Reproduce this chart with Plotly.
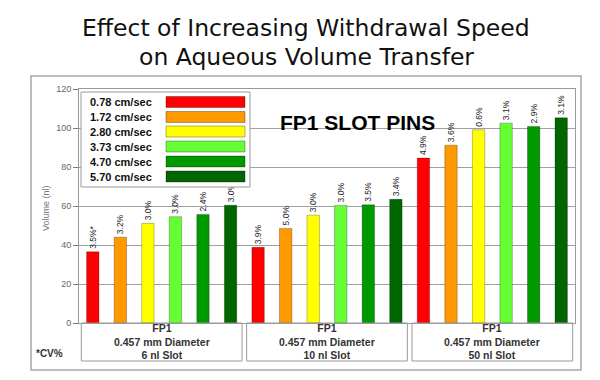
import plotly.graph_objects as go

# ---- data ----
groups = ["FP1<br>0.457 mm Diameter<br>6 nl Slot",
          "FP1<br>0.457 mm Diameter<br>10 nl Slot",
          "FP1<br>0.457 mm Diameter<br>50 nl Slot"]
speeds = ["0.78 cm/sec", "1.72 cm/sec", "2.80 cm/sec", "3.73 cm/sec", "4.70 cm/sec", "5.70 cm/sec"]
colors = ["#FF0000", "#FF9900", "#FFFF00", "#66FF33", "#009900", "#006600"]

# volume (nl) per speed, for the 3 slot groups
v_078 = [36.5, 38.8, 84.6]
v_172 = [44.0, 48.5, 91.2]
v_280 = [51.1, 55.3, 99.1]
v_373 = [54.5, 60.3, 102.5]
v_470 = [55.7, 60.6, 100.8]
v_570 = [60.4, 63.4, 105.2]
values = [v_078, v_172, v_280, v_373, v_470, v_570]

# CV% labels
cv_078 = ["3.5%*", "3.9%", "4.9%"]
cv_172 = ["3.2%", "5.0%", "3.6%"]
cv_280 = ["3.0%", "3.0%", "0.6%"]
cv_373 = ["3.0%", "3.0%", "3.1%"]
cv_470 = ["2.4%", "3.5%", "2.9%"]
cv_570 = ["3.0%", "3.4%", "3.1%"]
cvs = [cv_078, cv_172, cv_280, cv_373, cv_470, cv_570]

y_ticks = [0, 20, 40, 60, 80, 100, 120]

title_lines = ["Effect of Increasing Withdrawal Speed", "on Aqueous Volume Transfer"]

FONT = "Liberation Sans, Arial, sans-serif"

# ---- layout geometry (pixels) ----
W, H = 600, 380
L, R, T, B = 71, 567, 81, 315
def px(x):
    return (x - L) / (R - L)
def py(y):
    return (B - y) / (B - T)

fig = go.Figure()
for name, col, vals, labs in zip(speeds, colors, values, cvs):
    fig.add_trace(go.Bar(
        x=groups, y=vals, name=name,
        marker=dict(color=col, line=dict(color="rgba(0,0,0,0.25)", width=1)),
        text=labs, textposition="outside", textangle=-90, constraintext="none",
        textfont=dict(family=FONT, size=8.5, color="#222"), cliponaxis=False,
        showlegend=False,
    ))

shapes = []
annotations = []

# outer frame
shapes.append(dict(type="rect", xref="paper", yref="paper", x0=px(23), x1=px(573), y0=py(362), y1=py(68),
                   line=dict(color="#a8a8a8", width=1.5), layer="below"))
# category boxes
for i in range(len(groups)):
    shapes.append(dict(type="rect", xref="x", yref="paper", x0=i - 0.5 + 0.014, x1=i + 0.5 - 0.014,
                       y0=py(353), y1=0, line=dict(color="#9a9a9a", width=1), layer="above"))
    annotations.append(dict(x=groups[i], xref="x", y=py(333), yref="paper", text="<b>" + groups[i] + "</b>",
                            showarrow=False, font=dict(family=FONT, size=10.5, color="#333"),
                            xanchor="center", yanchor="middle"))

# custom legend (text left, swatch right)
shapes.append(dict(type="rect", xref="paper", yref="paper", x0=px(73), x1=px(242), y0=py(179), y1=py(84),
                   fillcolor="white", line=dict(color="#9a9a9a", width=1), layer="above"))
row_y = [94, 109, 123.5, 138.5, 153.5, 168.5]
for name, col, yy in zip(speeds, colors, row_y):
    shapes.append(dict(type="rect", xref="paper", yref="paper", x0=px(158), x1=px(237),
                       y0=py(yy + 5.5), y1=py(yy - 5.5),
                       fillcolor=col, line=dict(color="rgba(0,0,0,0.3)", width=1), layer="above"))
    annotations.append(dict(x=px(80), y=py(yy), xref="paper", yref="paper", text="<b>" + name + "</b>",
                            showarrow=False, xanchor="left", yanchor="middle",
                            font=dict(family=FONT, size=11, color="#111")))

annotations.append(dict(x=px(349), y=py(101), xref="paper", yref="paper", text="<b>FP1 SLOT PINS</b>",
                        showarrow=False, font=dict(family=FONT, size=21, color="#000")))
annotations.append(dict(x=px(31), y=py(200), xref="paper", yref="paper", text="Volume (nl)", textangle=-90,
                        showarrow=False, font=dict(family=FONT, size=9, color="#777")))
annotations.append(dict(x=px(26), y=py(353), xref="paper", yref="paper", text="<b>*CV%</b>", xanchor="left",
                        showarrow=False, font=dict(family=FONT, size=10, color="#333")))
for txt, yy in zip(title_lines, [20, 49]):
    annotations.append(dict(x=px(298), y=py(yy), xref="paper", yref="paper", text=txt,
                            showarrow=False, xanchor="center", yanchor="middle",
                            font=dict(family="DejaVu Sans, sans-serif", size=23.5, color="#111")))

fig.update_layout(
    width=W, height=H, margin=dict(l=L, r=W - R, t=T, b=H - B),
    paper_bgcolor="white", plot_bgcolor="white",
    barmode="group", bargap=0.0, bargroupgap=0.55,
    shapes=shapes, annotations=annotations, showlegend=False,
    font=dict(family=FONT),
)
fig.update_xaxes(showticklabels=False, showline=True, linecolor="#9a9a9a", mirror=True, ticks="",
                 range=[-0.5, 2.5], showgrid=False)
fig.update_yaxes(range=[0, 120], tickvals=y_ticks, showgrid=True, gridcolor="#a0a0a0", gridwidth=1,
                 showline=True, linecolor="#9a9a9a", mirror=True, ticks="outside", ticklen=5, tickcolor="#777",
                 tickfont=dict(family=FONT, size=9, color="#666"), zeroline=False)

fig.write_html("out.html")
